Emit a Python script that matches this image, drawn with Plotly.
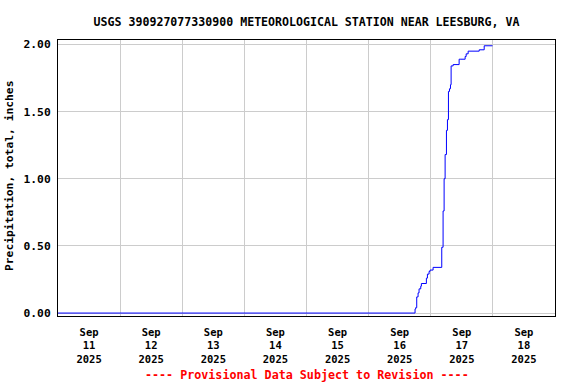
import plotly.graph_objects as go

# ---- data ----
times = [
    "2025-09-11 00:00", "2025-09-16 17:33", "2025-09-16 17:56", "2025-09-16 18:11",
    "2025-09-16 18:35", "2025-09-16 19:06", "2025-09-16 19:29", "2025-09-16 20:08",
    "2025-09-16 20:23", "2025-09-16 22:19", "2025-09-16 22:43", "2025-09-16 23:21",
    "2025-09-16 23:44", "2025-09-17 00:54", "2025-09-17 04:15", "2025-09-17 04:46",
    "2025-09-17 05:10", "2025-09-17 05:33", "2025-09-17 06:04", "2025-09-17 06:27",
    "2025-09-17 06:50", "2025-09-17 07:14", "2025-09-17 07:37", "2025-09-17 07:52",
    "2025-09-17 08:39", "2025-09-17 10:58", "2025-09-17 11:21", "2025-09-17 13:17",
    "2025-09-17 13:41", "2025-09-17 14:27", "2025-09-17 18:43", "2025-09-17 20:39",
    "2025-09-17 23:52",
]
precip = [
    0.00, 0.00, 0.03, 0.04,
    0.12, 0.15, 0.18, 0.20,
    0.22, 0.26, 0.29, 0.31,
    0.32, 0.34, 0.49, 0.76,
    1.00, 1.18, 1.36, 1.44,
    1.65, 1.67, 1.70, 1.84,
    1.85, 1.89, 1.89, 1.91,
    1.93, 1.95, 1.96, 1.99,
    1.99,
]

tick_dates = ["2025-09-11 12:00", "2025-09-12 12:00", "2025-09-13 12:00", "2025-09-14 12:00",
              "2025-09-15 12:00", "2025-09-16 12:00", "2025-09-17 12:00", "2025-09-18 12:00"]
tick_labels = ["Sep<br>11<br>2025", "Sep<br>12<br>2025", "Sep<br>13<br>2025", "Sep<br>14<br>2025",
               "Sep<br>15<br>2025", "Sep<br>16<br>2025", "Sep<br>17<br>2025", "Sep<br>18<br>2025"]
y_ticks = [0.0, 0.5, 1.0, 1.5, 2.0]

title_text = "USGS 390927077330900 METEOROLOGICAL STATION NEAR LEESBURG, VA"
y_title = "Precipitation, total, inches"
footer = "---- Provisional Data Subject to Revision ----"

FONT = "DejaVu Sans Mono"

fig = go.Figure()
fig.add_trace(go.Scatter(
    x=times, y=precip, mode="lines", line=dict(color="#0000ff", width=1, shape="hv"),
    hoverinfo="x+y", showlegend=False,
))

fig.update_layout(
    width=576, height=384,
    margin=dict(l=58, r=21, t=40, b=68),
    paper_bgcolor="white", plot_bgcolor="white",
    font=dict(family=FONT, size=12, color="black", weight="bold"),
    title=dict(text=title_text, x=0.5, xref="paper", xanchor="center",
               y=1 - 21.5 / 384, yref="container", yanchor="middle",
               font=dict(family=FONT, size=11.6, color="black", weight="bold")),
    xaxis=dict(
        type="date", range=["2025-09-11 00:00", "2025-09-19 00:00"],
        tickmode="array", tickvals=tick_dates, ticktext=tick_labels,
        showgrid=False, ticks="", zeroline=False, automargin=False,
        ticklabelstandoff=6,
        tickfont=dict(family=FONT, size=10.5, color="black", weight="bold"),
        showline=True, linecolor="black", linewidth=1, mirror=True,
        minor=dict(tick0="2025-09-11 00:00", dtick=86400000, showgrid=True,
                   gridcolor="#cccccc", gridwidth=1, ticks=""),
    ),
    yaxis=dict(
        range=[-0.022, 2.033], tickmode="array", tickvals=y_ticks,
        tickformat=".2f", showgrid=True, gridcolor="#cccccc", gridwidth=1,
        ticks="", zeroline=False, ticklabelstandoff=4, automargin=False,
        tickfont=dict(family=FONT, size=11.3, color="black", weight="bold"),
        showline=True, linecolor="black", linewidth=1, mirror=True,
    ),
    annotations=[
        dict(text=y_title, textangle=-90, x=(9.5 - 58) / 497, xref="paper",
             y=(316 - 176.5) / 276, yref="paper", xanchor="center", yanchor="middle",
             showarrow=False,
             font=dict(family=FONT, size=11.3, color="black", weight="bold")),
        dict(text=footer, x=0.5, xref="paper", y=(316 - 375) / 276, yref="paper",
             xanchor="center", yanchor="middle", showarrow=False,
             font=dict(family=FONT, size=11.7, color="red", weight="bold")),
    ],
)

fig.write_html("out.html", config={"displayModeBar": False},
               post_script="document.body.style.margin='0';document.body.style.padding='0';")
